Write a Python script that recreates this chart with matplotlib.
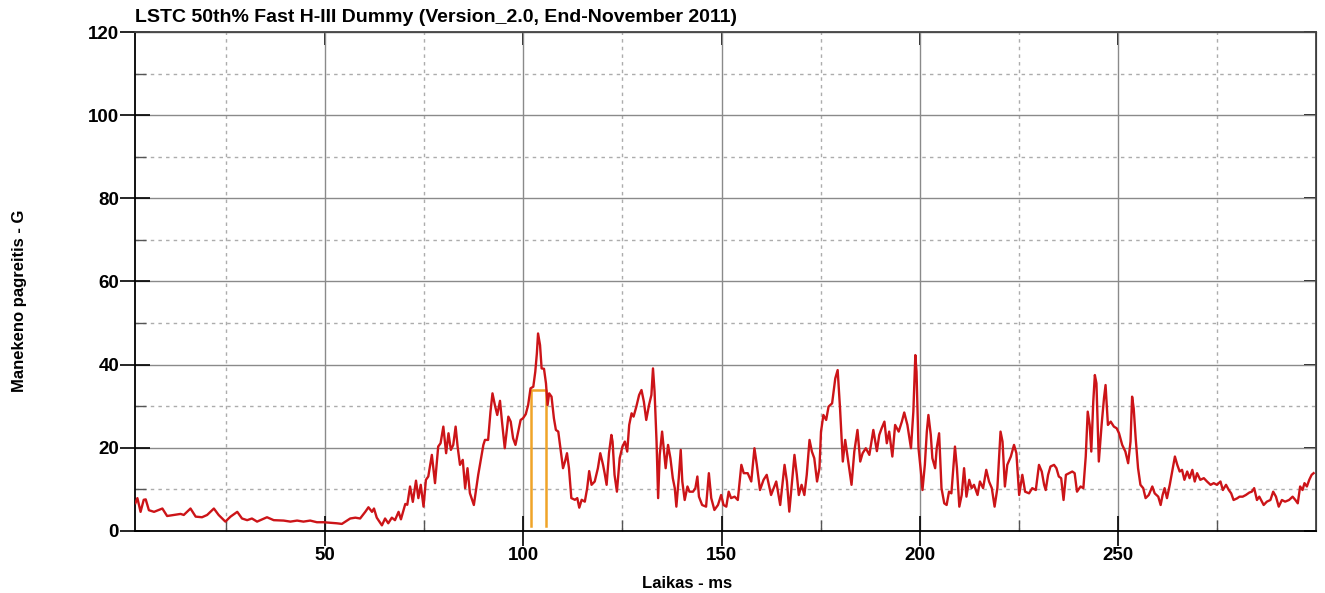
#!/usr/bin/env python3
"""
Dummy acceleration trace (LSTC 50th% H-III) redrawn with matplotlib
"""
import matplotlib
matplotlib.use('Agg')
import matplotlib.pyplot as plt

plt.rcParams['font.family'] = ['Liberation Sans', 'DejaVu Sans']
plt.rcParams['axes.unicode_minus'] = False

# time in ms
time_ms = [
    2.1, 2.6, 3.4, 4.2, 4.7, 5.5, 6.8, 7.6, 8.9, 10.1, 11.8, 13.5, 14.3, 16.0, 17.3, 18.9,
    20.2, 21.9, 23.1, 24.8, 26.1, 27.8, 29.0, 30.3, 31.5, 32.8, 34.1, 35.3, 37.0, 39.5,
    41.2, 42.9, 44.5, 46.2, 47.9, 49.6,
    52.9, 54.2, 56.3, 57.6, 58.8, 60.1, 60.9, 61.8, 62.3, 63.0, 64.3, 65.1, 65.9, 66.8,
    67.6, 68.5, 69.1, 70.2, 70.7, 71.4, 72.1, 72.9, 73.5, 74.1, 74.8, 75.4, 76.0, 76.9,
    77.7, 78.5, 79.1, 79.8, 80.5, 81.1, 81.7, 82.3, 82.9, 83.4, 84.0, 84.7, 85.3, 85.9, 86.5,
    87.5, 88.6, 89.9, 90.3, 91.1, 91.7, 92.2, 92.8, 93.4, 94.1, 94.6, 95.3, 96.2, 96.8,
    97.4, 98.0, 98.7, 99.3, 99.9, 100.6, 101.2, 101.8, 102.5, 103.0, 103.4, 103.7, 104.2,
    104.6, 105.2, 105.7, 106.1, 106.5, 107.1, 107.7, 108.2, 108.8, 109.4, 110.0, 110.5,
    111.0, 111.5, 112.1, 113.0, 113.6, 114.1, 114.7, 115.5, 116.1, 116.6, 117.2, 118.0,
    118.8, 119.4, 120.1, 120.5, 121.0, 121.6, 122.2,
    122.5, 123.0, 123.6, 124.3, 125.0, 125.6, 126.2, 126.7, 127.3, 127.8, 128.5, 129.2,
    129.8, 130.4, 131.0, 131.7, 132.3, 132.7, 133.1, 133.6, 134.0, 134.4, 135.0, 135.5,
    135.9, 136.5, 137.1, 137.7, 138.2, 138.6, 139.2, 139.7, 140.1, 140.7, 141.4, 141.9,
    142.8, 143.4, 143.9, 144.3, 145.1, 146.1, 146.8, 147.4, 148.2, 149.1, 149.9, 150.5,
    151.2, 151.8, 152.4, 153.3, 154.1, 155.0, 155.6, 156.6, 157.5,
    158.3, 158.9, 159.7, 160.6, 161.4, 162.5, 163.8, 164.8, 165.9, 166.5, 167.1, 167.8,
    168.4, 169.0, 169.5, 170.2, 170.9, 171.5, 172.2, 172.8, 173.4, 174.1, 174.7, 175.1,
    175.7, 176.4, 177.0, 177.9, 178.7, 179.3, 179.9, 180.6, 181.2, 182.2, 182.8, 183.5,
    184.3, 185.0, 185.6, 186.4, 187.3, 188.3, 189.2, 189.8, 190.4, 191.1, 191.7,
    192.3, 193.1, 193.8, 194.7, 195.5, 196.1, 196.9, 197.8, 198.4, 198.9, 199.2, 199.7,
    200.3, 200.7, 201.3, 201.8, 202.2, 202.8, 203.2, 203.9, 204.3, 204.9, 205.5, 206.2,
    206.8, 207.4, 208.0, 208.9, 209.4, 210.0, 210.6, 211.2, 211.8, 212.5, 213.1, 213.7,
    214.6, 215.2, 216.0, 216.8, 217.5, 218.2, 218.9, 219.6, 220.4, 220.9, 221.5, 222.1,
    223.0, 223.8, 224.4, 225.1, 225.9, 226.6,
    227.6, 228.4, 229.3, 230.1, 230.8, 231.4, 231.8, 232.4, 233.0, 233.9, 234.5, 235.1,
    235.7, 236.3, 236.9, 237.7, 238.5, 239.1, 239.7, 240.6, 241.3, 241.9, 242.4, 242.9,
    243.3, 243.8, 244.2, 244.6, 245.2, 245.9, 246.5, 246.9, 247.5, 248.2, 249.0, 249.7,
    250.3, 251.1, 251.9, 252.6, 253.2, 253.6, 254.0, 254.5, 255.1, 255.7, 256.4, 257.0,
    257.8, 258.7, 259.3, 260.2, 260.8, 261.3, 261.8, 262.4, 263.1, 263.7,
    264.4, 265.0, 265.6, 266.2, 266.8, 267.5, 268.1, 268.8, 269.4, 270.0, 270.8, 271.7,
    272.5, 273.4, 274.2, 275.0, 275.9, 276.5, 277.3, 278.0, 278.6, 279.2, 280.1, 280.7,
    281.5, 282.3, 283.2, 283.8, 284.4, 285.1, 285.7, 286.8, 287.6, 288.5, 289.2, 289.9,
    290.6, 291.4, 292.2, 293.2, 294.1, 294.8, 295.4, 296.0, 296.6, 297.1, 297.7, 298.3,
    298.9, 299.4,
]

# acceleration in G, same order as time_ms
accel_g = [
    6.7, 7.9, 4.6, 7.5, 7.6, 5.0, 4.6, 4.9, 5.4, 3.6, 3.85, 4.1, 3.85, 5.4, 3.45, 3.3,
    3.85, 5.4, 3.85, 2.25, 3.45, 4.6, 3.0, 2.6, 3.0, 2.25, 2.8, 3.3, 2.6, 2.5,
    2.25, 2.5, 2.25, 2.5, 2.1, 2.1,
    1.85, 1.7, 3.0, 3.2, 3.0, 4.6, 5.7, 4.6, 5.4, 3.2, 1.35, 3.0, 1.85, 3.2,
    2.6, 4.6, 2.8, 6.5, 6.3, 10.7, 7.0, 12.1, 7.9, 11.1, 5.85, 12.3, 13.1, 18.3,
    11.5, 20.3, 21.1, 25.1, 18.7, 23.5, 19.5, 20.7, 25.1, 20.3, 15.9, 17.1, 10.3, 15.1, 9.1,
    6.25, 13.5, 20.7, 21.9, 21.9, 28.7, 33.1, 30.3, 27.9, 31.3, 26.3, 19.9, 27.5, 26.3,
    22.3, 20.7, 23.9, 26.7, 27.1, 28.1, 30.3, 34.3, 34.7, 38.3, 42.7, 47.5, 44.7,
    39.1, 39.0, 35.5, 30.3, 33.1, 32.3, 27.1, 24.3, 23.9, 19.5, 15.1, 16.7,
    18.7, 15.1, 7.9, 7.5, 7.9, 5.6, 7.5, 7.05, 10.3, 14.4, 11.1, 11.9,
    15.1, 18.7, 15.9, 13.9, 11.1, 18.7, 23.1,
    21.5, 13.5, 9.45, 17.5, 20.3, 21.5, 19.1, 25.5, 28.3, 27.5, 29.9, 32.7,
    33.9, 31.1, 26.7, 30.3, 32.7, 39.1, 33.5, 21.5, 7.9, 18.3, 23.9, 19.1,
    15.1, 20.7, 17.5, 12.7, 10.3, 5.85, 12.7, 19.5, 11.9, 7.45, 10.7, 9.45,
    9.45, 10.3, 13.1, 8.25, 6.25, 5.85, 13.9, 7.9, 5.05, 6.25, 8.65, 6.25,
    5.85, 9.45, 7.9, 8.25, 7.45, 15.9, 13.9, 13.9, 11.9,
    19.9, 15.9, 9.85, 12.3, 13.5, 8.65, 11.9, 6.25, 15.9, 11.9, 4.65, 11.9,
    18.3, 13.5, 8.65, 11.1, 8.65, 13.5, 21.9, 19.1, 17.5, 11.9, 15.1, 23.9,
    27.9, 26.7, 29.9, 30.7, 36.7, 38.7, 29.5, 16.7, 21.9, 15.1, 11.1, 19.1,
    24.3, 16.7, 18.7, 19.9, 18.3, 24.3, 19.2, 23.1, 24.7, 26.3, 21.1,
    23.9, 17.9, 25.5, 23.9, 26.3, 28.5, 25.5, 19.9, 28.7, 42.3, 38.3, 19.9,
    14.3, 9.85, 15.9, 23.9, 27.9, 23.1, 17.5, 15.1, 19.9, 23.5, 10.3, 6.65,
    6.25, 9.45, 9.05, 20.3, 15.1, 5.85, 8.65, 15.1, 8.25, 12.3, 10.3, 11.1,
    8.65, 11.9, 10.3, 14.7, 11.9, 10.3, 5.85, 10.3, 23.9, 21.5, 10.7, 15.9,
    17.9, 20.7, 18.7, 8.65, 13.5, 9.45,
    9.05, 10.3, 9.85, 15.9, 14.3, 11.1, 9.85, 13.5, 15.5, 15.9, 15.1, 13.1,
    12.7, 7.45, 13.5, 13.9, 14.3, 13.9, 9.45, 10.7, 10.3, 17.9, 28.7, 25.5,
    19.1, 31.1, 37.5, 35.5, 16.7, 25.5, 31.9, 35.1, 25.5, 26.3, 25.1, 24.7,
    23.5, 20.7, 19.1, 16.3, 21.5, 32.3, 29.5, 22.3, 15.1, 11.1, 10.3, 7.9,
    8.65, 10.7, 9.05, 8.25, 6.25, 8.65, 10.3, 7.9, 11.1, 14.3,
    17.9, 15.9, 14.3, 14.7, 12.3, 14.3, 12.7, 14.7, 11.9, 13.9, 12.3, 12.7,
    11.9, 11.1, 11.5, 11.1, 11.9, 9.85, 11.1, 9.85, 9.05, 7.45, 7.85, 8.25,
    8.25, 8.65, 9.25, 9.45, 10.3, 7.45, 8.25, 6.25, 7.05, 7.45, 9.45, 8.25,
    5.85, 7.45, 7.05, 7.45, 8.25, 7.45, 6.65, 10.7, 9.85, 11.5, 10.7, 12.3,
    13.5, 13.9,
]

# HIC window (orange box)
hic_start = 101.8
hic_end = 105.6
hic_level = 33.9
hic_floor = 1.2

x_major = [50, 100, 150, 200, 250]
x_minor = [25, 75, 125, 175, 225, 275]
y_major = [0, 20, 40, 60, 80, 100, 120]
y_minor = [10, 30, 50, 70, 90, 110]


def main():
    fig = plt.figure(figsize=(13.25, 5.93), dpi=100)
    ax = fig.add_axes([0.1019, 0.1046, 0.8913, 0.8414])

    # HIC interval, under the trace
    ax.plot([hic_start, hic_start, hic_end, hic_end],
            [hic_floor, hic_level, hic_level, hic_floor],
            color='#f0a428', linewidth=1.8, zorder=2)

    ax.plot(time_ms, accel_g, color='#cc1418', linewidth=1.7, zorder=3)

    ax.set_xlim(2, 300)
    ax.set_ylim(0, 120)

    ax.set_xticks(x_major)
    ax.set_xticks(x_minor, minor=True)
    ax.set_yticks(y_major)
    ax.set_yticks(y_minor, minor=True)

    # grid: solid for major, dashed for minor
    ax.grid(which='major', color='#8a8a8a', linewidth=1.0, linestyle='-')
    ax.grid(which='minor', color='#acacac', linewidth=1.0, linestyle=(0, (2.5, 3)))
    ax.set_axisbelow(True)

    ax.tick_params(which='major', direction='inout', length=21, width=1.2,
                   color='black', labelsize=13.5, pad=1)
    ax.tick_params(which='minor', direction='in', length=8, width=1.0, color='#555555')
    for lbl in ax.get_xticklabels() + ax.get_yticklabels():
        lbl.set_fontweight('bold')

    for side in ['left', 'bottom']:
        ax.spines[side].set_color('black')
        ax.spines[side].set_linewidth(1.3)
    for side in ['top', 'right']:
        ax.spines[side].set_color('#444444')
        ax.spines[side].set_linewidth(1.3)

    # inward ticks on top and right
    top = ax.secondary_xaxis('top')
    top.set_xticks(x_major)
    top.tick_params(direction='in', length=9, width=1.2, labeltop=False)
    top.spines['top'].set_color('#444444')
    right = ax.secondary_yaxis('right')
    right.set_yticks(y_major)
    right.tick_params(direction='in', length=9, width=1.2, labelright=False)
    right.spines['right'].set_color('black')

    ax.set_title('LSTC 50th% Fast H-III Dummy (Version_2.0, End-November 2011)',
                 loc='left', fontsize=14, fontweight='bold', pad=7)

    fig.text(20 / 1325, 1 - 301 / 593, 'Manekeno pagreitis - G', rotation=90,
             ha='center', va='center', fontsize=12, fontweight='bold')
    fig.text(687 / 1325, 1 - 583 / 593, 'Laikas - ms',
             ha='center', va='center', fontsize=12, fontweight='bold')

    fig.savefig('out.png', dpi=100)
    plt.close(fig)


if __name__ == '__main__':
    main()
